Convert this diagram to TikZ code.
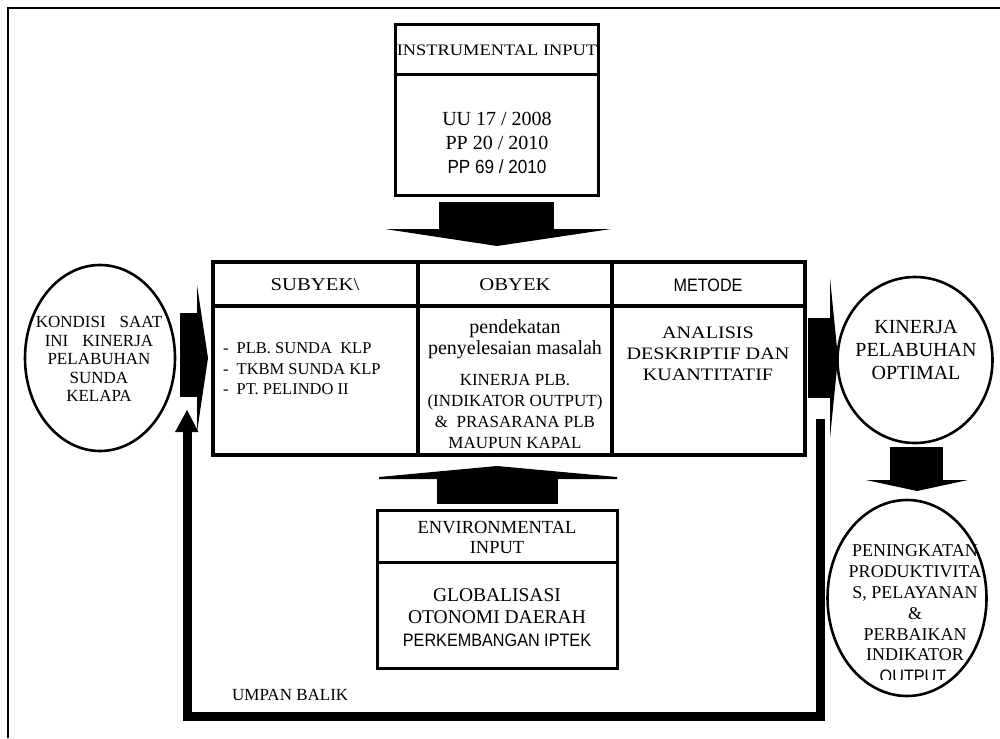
\documentclass[tikz,border=0pt]{standalone}
\usepackage{fontspec}
\setmainfont{Liberation Serif}
\newfontfamily\serifwide{Liberation Serif}[FakeStretch=1.15]
\newfontfamily\narrowsans{Liberation Sans}[FakeStretch=0.9]
\usetikzlibrary{shapes.geometric}
\begin{document}
\begin{tikzpicture}[x=1pt,y=-1pt,
  txt/.style={inner sep=0pt, align=center},
  boxline/.style={draw, line width=3pt},
  tabline/.style={draw, line width=3.5pt},
  blk/.style={fill=black},
  oval/.style={draw, line width=2.6pt, ellipse, inner sep=0pt},
  fb/.style={draw, line width=9pt, line join=miter}]
\useasboundingbox (0,0) rectangle (1000,738);
% frame
\draw[line width=1.2pt] (8,738) -- (8,8) -- (1000,8);

% instrumental input box
\draw[boxline] (395,25) rectangle (598,195);
\draw[boxline] (395,75) -- (598,75);
\node[txt, font=\serifwide\fontsize{16}{20}\selectfont] (instr) at (497,50) {INSTRUMENTAL INPUT};
\node[txt, font=\fontsize{20}{23.5}\selectfont] (laws) at (497,131) {UU 17 / 2008\\PP 20 / 2010};
\node[txt, font=\narrowsans\fontsize{19}{23}\selectfont] (pp69) at (497,167) {PP 69 / 2010};

% down arrow from instrumental
\fill[blk] (439,202) rectangle (554,230);
\fill[blk] (385,229) -- (611,229) -- (497,246) -- cycle;

% main table
\draw[tabline] (213,262) rectangle (805,455);
\draw[tabline] (213,306) -- (805,306);
\draw[tabline] (418,262) -- (418,455);
\draw[tabline] (612,262) -- (612,455);
\node[txt, font=\serifwide\fontsize{18}{21}\selectfont] (subyek) at (315,285) {SUBYEK\textbackslash};
\node[txt, font=\serifwide\fontsize{18}{21}\selectfont] (obyek) at (515,285) {OBYEK};
\node[txt, font=\narrowsans\fontsize{18}{21}\selectfont] (metode) at (708,285) {METODE};
\node[txt, align=left, anchor=west, font=\fontsize{16.5}{20.5}\selectfont] (sublist) at (223,369)
  {-\hspace{8pt}PLB. SUNDA\ \ KLP\\-\hspace{8pt}TKBM SUNDA KLP\\-\hspace{8pt}PT. PELINDO II};
\node[txt, font=\fontsize{20}{21.5}\selectfont] (obtop) at (515,339) {pendekatan\\penyelesaian masalah};
\node[txt, font=\fontsize{17}{21}\selectfont] (obbot) at (515,411) {KINERJA PLB.\\(INDIKATOR OUTPUT)\\\&\ \ PRASARANA PLB\\MAUPUN KAPAL};
\node[txt, font=\serifwide\fontsize{17.5}{21}\selectfont] (metodetxt) at (708,354) {ANALISIS\\DESKRIPTIF DAN\\KUANTITATIF};

% left ellipse
\node[oval, minimum width=150, minimum height=186] (kondisi) at (100,358) {};
\node[txt, font=\fontsize{17}{18.5}\selectfont] (kondisitxt) at (99,359) {KONDISI\hspace{14pt}SAAT\\INI\hspace{14pt}KINERJA\\PELABUHAN\\SUNDA\\KELAPA};

% left block arrow
\fill[blk] (180,313) rectangle (197.5,397);
\fill[blk] (197,285) -- (208,358) -- (197,432) -- cycle;

% right block arrow
\fill[blk] (808,318) rectangle (830.5,398);
\fill[blk] (830,278) -- (838,358) -- (830,438) -- cycle;

% right ellipse
\node[oval, minimum width=155, minimum height=166] (optimal) at (915,360) {};
\node[txt, font=\fontsize{20}{23}\selectfont] (optimaltxt) at (916,350) {KINERJA\\PELABUHAN\\OPTIMAL};

% down arrow right
\fill[blk] (890,447) rectangle (943,480.5);
\fill[blk] (866,480) -- (968,480) -- (917,491) -- cycle;

% bottom right ellipse
\node[oval, minimum width=159, minimum height=196] (hasil) at (907,598) {};
\node[txt, font=\fontsize{18}{20.8}\selectfont] (hasiltxt) at (915,603) {PENINGKATAN\\PRODUKTIVITA\\S, PELAYANAN\\\&\\PERBAIKAN\\INDIKATOR};
\begin{scope}
\clip (850,660) rectangle (970,679);
\node[txt, font=\narrowsans\fontsize{18}{20}\selectfont] (outputtxt) at (913,676) {OUTPUT};
\end{scope}

% up arrow from environmental
\fill[blk] (437,478) rectangle (558,504);
\fill[blk] (379,477) -- (497,466) -- (617,477) -- (617,479) -- (379,479) -- cycle;

% environmental box
\draw[boxline] (377,510) rectangle (617,668);
\draw[boxline] (377,562) -- (617,562);
\node[txt, font=\fontsize{18.5}{20}\selectfont] (envtitle) at (497,537) {ENVIRONMENTAL\\INPUT};
\node[txt, font=\fontsize{19.5}{22.5}\selectfont] (envtxt) at (497,606) {GLOBALISASI\\OTONOMI DAERAH};
\node[txt, font=\narrowsans\fontsize{18}{20}\selectfont] (iptek) at (497,640) {PERKEMBANGAN IPTEK};

% feedback loop
\coordinate (fbstart) at (820,419);
\coordinate (fbr) at (820,716);
\coordinate (fbl) at (187,716);
\coordinate (fbend) at (187,431);
\draw[fb] (fbstart) -- (fbr) -- (fbl) -- (fbend);
\fill[blk] (175,432) -- (187,410) -- (198.5,432) -- cycle;
\node[txt, font=\fontsize{17}{20}\selectfont, anchor=west] (umpan) at (232,695) {UMPAN BALIK};
\end{tikzpicture}
\end{document}
